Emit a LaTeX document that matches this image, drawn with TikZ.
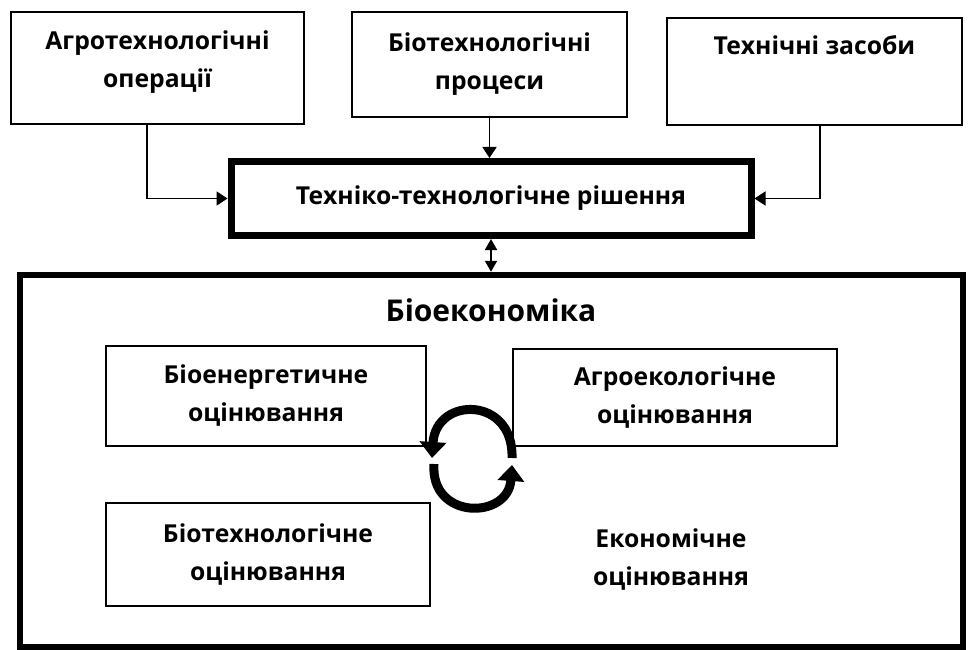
\documentclass[tikz,border=0pt]{standalone}
\usepackage{fontspec}
\setmainfont{Open Sans}
\usetikzlibrary{arrows.meta,positioning}
\tikzset{
  box/.style={draw, line width=1.3pt, inner sep=0pt},
  thickbox/.style={draw, line width=7pt, inner sep=0pt},
  txt/.style={align=center, font=\bfseries\fontsize{24.7}{38}\selectfont},
  link/.style={line width=1.8pt, -{Triangle[length=11pt,width=14pt]}},
  twoway/.style={line width=1.8pt, {Triangle[length=11pt,width=12pt]}-{Triangle[length=11pt,width=12pt]}},
  cyclearrow/.style={line width=9pt, -{Triangle[length=16pt,width=26pt]}},
}
\begin{document}
\begin{tikzpicture}[x=1pt,y=-1pt]
  \useasboundingbox (0,0) rectangle (972,650);
  % top row
  \node[box, minimum width=293, minimum height=112] (ops) at (157.5,68) {};
  \node[txt, below=16pt of ops.north] (opsT) {Агротехнологічні\\операції};
  \node[box, txt, minimum width=275, minimum height=105] (proc) at (489.5,64.5) {Біотехнологічні\\процеси};
  \node[box, minimum width=295, minimum height=107] (tech) at (814.5,71.5) {};
  \node[txt, below=15pt of tech.north] (techT) {Технічні засоби};
  % decision
  \node[thickbox, txt, minimum width=520, minimum height=74] (dec) at (491,198.5) {Техніко-технологічне рішення};
  % bioeconomy frame
  \node[draw, line width=6.5pt, minimum width=943, minimum height=372] (econ) at (491.5,461) {};
  \node[txt, font=\bfseries\fontsize{30}{36}\selectfont] (econT) at (491,310) {Біоекономіка};
  \node[box, txt, minimum width=320, minimum height=100] (energy) at (266,396) {Біоенергетичне\\оцінювання};
  \node[box, txt, minimum width=324, minimum height=97] (ecol) at (675,397.5) {Агроекологічне\\оцінювання};
  \node[box, txt, minimum width=324, minimum height=103] (biot) at (268,554.5) {Біотехнологічне\\оцінювання};
  \node[txt] (money) at (671,560) {Економічне\\оцінювання};
  % connectors
  \draw[link] ([xshift=-10.5pt]ops.south) |- (dec.west);
  \draw[link] (proc.south) -- (proc.south |- dec.north);
  \draw[link] ([xshift=5.5pt]tech.south) |- (dec.east);
  \draw[twoway] (dec.south) -- (dec.south |- econ.north);
  % cycle
  \draw[cyclearrow] (512,458) .. controls (514,396) and (436,396) .. (432,458);
  \draw[cyclearrow] (434,464) .. controls (430,520) and (508,520) .. (512,465);
\end{tikzpicture}
\end{document}
